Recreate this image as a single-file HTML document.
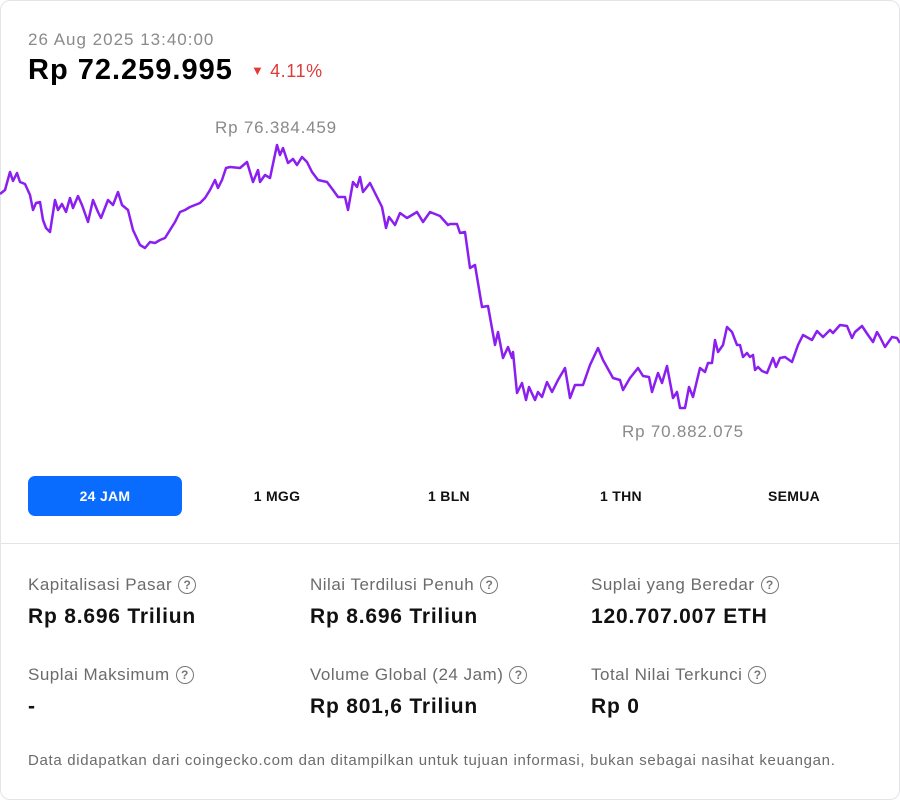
<!DOCTYPE html>
<html><head><meta charset="utf-8"><style>
body{margin:0;width:900px;height:800px;background:#fff;font-family:"Liberation Sans",sans-serif;position:relative;overflow:hidden}
.card{position:absolute;left:0;top:0;width:898px;height:798px;border:1px solid #e4e4e7;border-radius:10px}
.t{position:absolute;white-space:nowrap}
.lbl{color:#6b6b6b;font-size:17px;letter-spacing:0.5px}
.val{color:#111;font-size:21px;font-weight:bold;letter-spacing:0.8px}
.q{display:inline-block;width:16px;height:16px;border:1.5px solid #777;border-radius:50%;font-size:12px;text-align:center;line-height:16px;color:#777;margin-left:6px;vertical-align:1px;font-weight:bold;letter-spacing:0}
.btn{position:absolute;top:476px;height:40px;line-height:40px;font-size:14px;font-weight:bold;text-align:center;width:154px;color:#111;letter-spacing:0.3px}
</style></head><body>
<div class="card"></div>
<div class="t" style="left:28px;top:30px;color:#8a8a8a;font-size:17px;letter-spacing:1px">26 Aug 2025 13:40:00</div>
<div class="t" style="left:28px;top:54px;color:#000;font-size:29px;font-weight:bold;letter-spacing:1px">Rp 72.259.995</div>
<div class="t" style="left:251px;top:61px;color:#e03a3a;font-size:18px;letter-spacing:0.6px"><span style="font-size:13px;vertical-align:2px">▼</span> 4.11%</div>
<div class="t" style="left:215px;top:118px;color:#8a8a8a;font-size:17px;letter-spacing:0.8px">Rp 76.384.459</div>
<div class="t" style="left:622px;top:422px;color:#8a8a8a;font-size:17px;letter-spacing:0.8px">Rp 70.882.075</div>
<svg style="position:absolute;left:0;top:0" width="900" height="460"><polyline fill="none" stroke="#8a1ff0" stroke-width="2.5" stroke-linejoin="round" points="0,194 5,190 10,172 13,181 17,173 20,182 25,184 30,195 33,210 36,203 40,202 43,220 46,228 50,232 55,200 58,210 62,204 66,212 70,198 73,208 78,196 82,205 88,222 93,200 98,212 101,218 108,200 113,205 118,192 122,205 128,210 133,230 140,245 145,248 150,242 155,243 160,240 165,238 170,230 175,222 180,212 185,210 190,207 195,205 200,203 205,198 210,190 215,180 218,188 222,180 226,168 230,167 240,168 247,162 253,182 258,170 260,182 265,175 270,178 277,145 280,155 283,148 288,163 293,159 297,165 302,157 307,162 312,172 318,180 327,182 333,190 338,197 345,197 348,210 353,182 357,187 360,177 363,192 370,183 375,193 382,207 386,228 389,217 395,225 400,213 407,218 417,212 423,222 430,212 440,216 448,225 450,224 457,224 460,233 465,232 470,268 475,265 482,307 488,306 495,345 498,332 503,358 508,347 512,358 513,352 517,393 522,383 526,400 529,387 535,400 538,392 542,397 547,382 552,392 558,380 565,368 570,398 575,385 583,385 590,365 598,348 603,360 613,378 620,380 623,390 630,378 638,368 643,376 649,377 652,392 658,373 662,383 667,366 673,398 677,392 680,408 685,408 689,387 693,397 700,368 705,372 708,363 712,363 715,340 718,352 723,345 727,327 732,332 737,345 740,345 743,357 747,353 750,357 753,355 755,370 758,367 762,371 767,373 773,358 776,367 780,358 785,357 792,362 798,345 803,335 812,340 817,331 823,337 830,330 833,333 840,325 847,326 852,338 855,332 862,326 868,335 873,342 877,332 880,337 885,347 892,337 897,338 900,343"/></svg>
<div class="btn" style="left:28px;background:#0a6cff;color:#fff;border-radius:7px">24 JAM</div>
<div class="btn" style="left:200px">1 MGG</div>
<div class="btn" style="left:372px">1 BLN</div>
<div class="btn" style="left:544px">1 THN</div>
<div class="btn" style="left:717px">SEMUA</div>
<div style="position:absolute;left:1px;top:543px;width:898px;height:1px;background:#e4e4e7"></div>
<div class="t lbl" style="left:28px;top:575px">Kapitalisasi Pasar<span class="q">?</span></div>
<div class="t val" style="left:28px;top:605px">Rp 8.696 Triliun</div>
<div class="t lbl" style="left:310px;top:575px">Nilai Terdilusi Penuh<span class="q">?</span></div>
<div class="t val" style="left:310px;top:605px">Rp 8.696 Triliun</div>
<div class="t lbl" style="left:591px;top:575px">Suplai yang Beredar<span class="q">?</span></div>
<div class="t val" style="left:591px;top:605px">120.707.007 ETH</div>
<div class="t lbl" style="left:28px;top:665px">Suplai Maksimum<span class="q">?</span></div>
<div class="t val" style="left:28px;top:695px">-</div>
<div class="t lbl" style="left:310px;top:665px">Volume Global (24 Jam)<span class="q">?</span></div>
<div class="t val" style="left:310px;top:695px">Rp 801,6 Triliun</div>
<div class="t lbl" style="left:591px;top:665px">Total Nilai Terkunci<span class="q">?</span></div>
<div class="t val" style="left:591px;top:695px">Rp 0</div>
<div class="t" style="left:28px;top:752px;color:#6b6b6b;font-size:15px;letter-spacing:0.68px">Data didapatkan dari coingecko.com dan ditampilkan untuk tujuan informasi, bukan sebagai nasihat keuangan.</div>
</body></html>
